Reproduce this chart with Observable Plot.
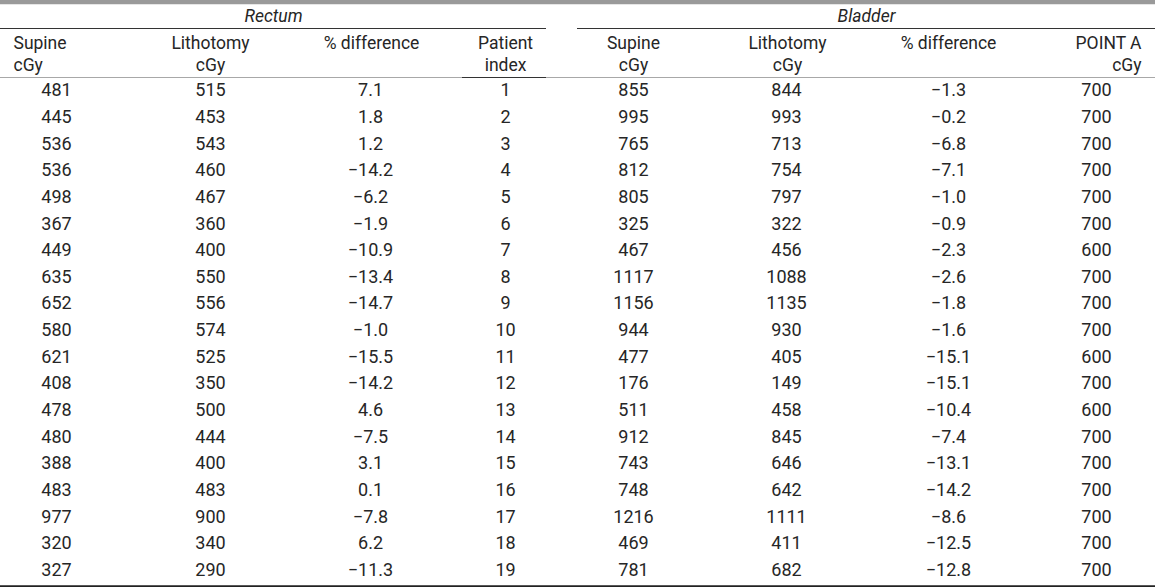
<!DOCTYPE html>
<html><head><meta charset="utf-8">
<script src="https://cdn.jsdelivr.net/npm/d3@7"></script>
<script src="https://cdn.jsdelivr.net/npm/@observablehq/plot@0.6"></script>
<style>html,body{margin:0;padding:0;background:#fff;overflow:hidden}</style>
</head><body><div id="chart"></div>
<script>
// ---- data ----
const patientIndex = [1,2,3,4,5,6,7,8,9,10,11,12,13,14,15,16,17,18,19];
const rectumSupine = [481,445,536,536,498,367,449,635,652,580,621,408,478,480,388,483,977,320,327];
const rectumLithotomy = [515,453,543,460,467,360,400,550,556,574,525,350,500,444,400,483,900,340,290];
const rectumDiff = [7.1,1.8,1.2,-14.2,-6.2,-1.9,-10.9,-13.4,-14.7,-1.0,-15.5,-14.2,4.6,-7.5,3.1,0.1,-7.8,6.2,-11.3];
const bladderSupine = [855,995,765,812,805,325,467,1117,1156,944,477,176,511,912,743,748,1216,469,781];
const bladderLithotomy = [844,993,713,754,797,322,456,1088,1135,930,405,149,458,845,646,642,1111,411,682];
const bladderDiff = [-1.3,-0.2,-6.8,-7.1,-1.0,-0.9,-2.3,-2.6,-1.8,-1.6,-15.1,-15.1,-10.4,-7.4,-13.1,-14.2,-8.6,-12.5,-12.8];
const pointA = [700,700,700,700,700,700,600,700,700,700,600,700,600,700,700,700,700,700,700];
const groupTitles = ["Rectum","Bladder"];
const headerLine1 = ["Supine","Lithotomy","% difference","Patient","Supine","Lithotomy","% difference","POINT A"];
const headerLine2 = ["cGy","cGy","","index","cGy","cGy","","cGy"];

// ---- layout ----
const W = 1155, H = 587;
const columnX = [56,210,370,505,633,786,948,1096];
const headerX = [13,210,371,505,633,787,948,1141];
const headerAnchor = ["start","middle","middle","middle","middle","middle","middle","end"];
const groupSpan = [[0,546],[577,1155]];
const rowY = {title:-1.777, groupRule:-1.326, head1:-0.764, head2:0.062, headRule:0.512, topBar:-2.32, bottomRule:19.6};
const ink = "#262626";

const fmt1 = d3.format(".1f");
const columns = [
  rectumSupine.map(String),
  rectumLithotomy.map(String),
  rectumDiff.map(fmt1),
  patientIndex.map(String),
  bladderSupine.map(String),
  bladderLithotomy.map(String),
  bladderDiff.map(fmt1),
  pointA.map(String)
];
const cells = [];
columns.forEach((col, c) => col.forEach((t, i) => cells.push({row: patientIndex[i], col: c, text: t})));

const headers = [];
headerLine1.forEach((t, c) => headers.push({col: c, y: rowY.head1, text: t}));
headerLine2.forEach((t, c) => { if (t) headers.push({col: c, y: rowY.head2, text: t}); });

const groups = groupTitles.map((t, g) => ({text: t, x1: groupSpan[g][0], x2: groupSpan[g][1]}));

const headerMark = anchor => Plot.text(headers.filter(d => headerAnchor[d.col] === anchor), {
  x: d => headerX[d.col], y: "y", text: "text", textAnchor: anchor, fill: ink, fontSize: 17.5
});

const chart = Plot.plot({
  width: W, height: H,
  margin: 0,
  x: {type: "linear", domain: [0, W], range: [0, W], axis: null},
  y: {type: "linear", domain: [-2.377, 19.649], range: [0, H], axis: null},
  style: {fontFamily: "Roboto, 'Liberation Sans', sans-serif", fontSize: "17px", background: "#fff", color: ink},
  marks: [
    Plot.ruleY([rowY.topBar], {x1: 0, x2: W, stroke: "#9a9a9a", strokeWidth: 4.5}),
    Plot.text(groups, {x: d => (d.x1 + d.x2) / 2, y: () => rowY.title, text: "text", fontStyle: "italic", fill: ink, fontSize: 17.5}),
    Plot.ruleY(groups, {y: () => rowY.groupRule, x1: "x1", x2: "x2", stroke: "#333", strokeWidth: 1.2}),
    headerMark("start"),
    headerMark("middle"),
    headerMark("end"),
    Plot.ruleY([rowY.headRule], {x1: 0, x2: W, stroke: "#a8a8a8", strokeWidth: 1.2}),
    Plot.ruleY([rowY.headRule], {x1: 462, x2: 546, stroke: "#333", strokeWidth: 1.2}),
    Plot.text(cells, {x: d => columnX[d.col], y: "row", text: "text", fill: ink, fontSize: 18}),
    Plot.ruleY([rowY.bottomRule], {x1: 0, x2: W, stroke: "#222", strokeWidth: 2})
  ]
});
document.getElementById("chart").append(chart);
</script>
</body></html>
